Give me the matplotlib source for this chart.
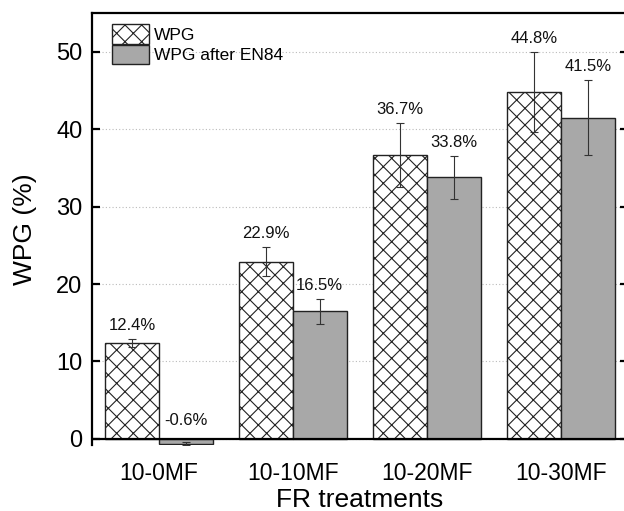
import matplotlib
matplotlib.use("Agg")
import matplotlib.pyplot as plt
import numpy as np

plt.rcParams['font.family'] = ['Liberation Sans', 'DejaVu Sans']
plt.rcParams['hatch.linewidth'] = 0.8

# data
treatments = ['10-0MF', '10-10MF', '10-20MF', '10-30MF']
wpg = [12.4, 22.9, 36.7, 44.8]
wpg_err = [0.55, 1.9, 4.1, 5.2]
wpg_en84 = [-0.6, 16.5, 33.8, 41.5]
wpg_en84_err = [0.2, 1.6, 2.75, 4.85]

fig = plt.figure(figsize=(6.24, 5.11), dpi=100)
ax = fig.add_axes([0.1474, 0.129, 0.859, 0.8454])

x = np.arange(len(treatments))
w = 0.4

ax.bar(x - w/2, wpg, w, facecolor='white', edgecolor='#222222',
       hatch='xx', linewidth=1.0, label='WPG', zorder=2)
ax.bar(x + w/2, wpg_en84, w, facecolor='#a8a8a8', edgecolor='#222222',
       linewidth=1.0, label='WPG after EN84', zorder=2)

ax.errorbar(x - w/2, wpg, yerr=wpg_err, fmt='none', ecolor='#333333',
            elinewidth=0.8, capsize=3, capthick=0.8, zorder=3)
ax.errorbar(x + w/2, wpg_en84, yerr=wpg_en84_err, fmt='none', ecolor='#333333',
            elinewidth=0.8, capsize=3, capthick=0.8, zorder=3)

# value labels above the error bars
for xs, vals, errs in [(x - w/2, wpg, wpg_err), (x + w/2, wpg_en84, wpg_en84_err)]:
    for xi, v, e in zip(xs, vals, errs):
        top = max(v + e, 0)
        off = 8 if v < 0 else 4
        ax.annotate(f'{v}%', (xi, top), xytext=(0, off), textcoords='offset points',
                    ha='center', va='bottom', fontsize=12, color='#111111')

ax.axhline(0, color='black', linewidth=1.6, zorder=4)

ax.set_xlim(-0.5, 3.5)
ax.set_ylim(-0.8, 55)
ax.set_yticks([0, 10, 20, 30, 40, 50])
ax.set_xticks(x)
ax.set_xticklabels(treatments)

ax.yaxis.grid(True, linestyle=(0, (1, 2)), color='#bbbbbb', linewidth=0.8)
ax.set_axisbelow(True)

ax.spines['bottom'].set_visible(False)
for s in ['left', 'top', 'right']:
    ax.spines[s].set_linewidth(1.6)

ax.tick_params(axis='y', direction='in', length=6, width=1.6, labelsize=17,
               right=True, pad=7)
ax.tick_params(axis='x', length=0, labelsize=16.5, pad=12)

ax.set_ylabel('WPG (%)', fontsize=19, labelpad=14)
ax.set_xlabel('FR treatments', fontsize=19, labelpad=2)

ax.legend(loc='upper left', frameon=False, fontsize=12.5, handlelength=2.1,
          handleheight=1.35, handletextpad=0.3, labelspacing=0.05,
          borderaxespad=0.0, bbox_to_anchor=(0.025, 0.99))

fig.savefig('out.png', dpi=100)
